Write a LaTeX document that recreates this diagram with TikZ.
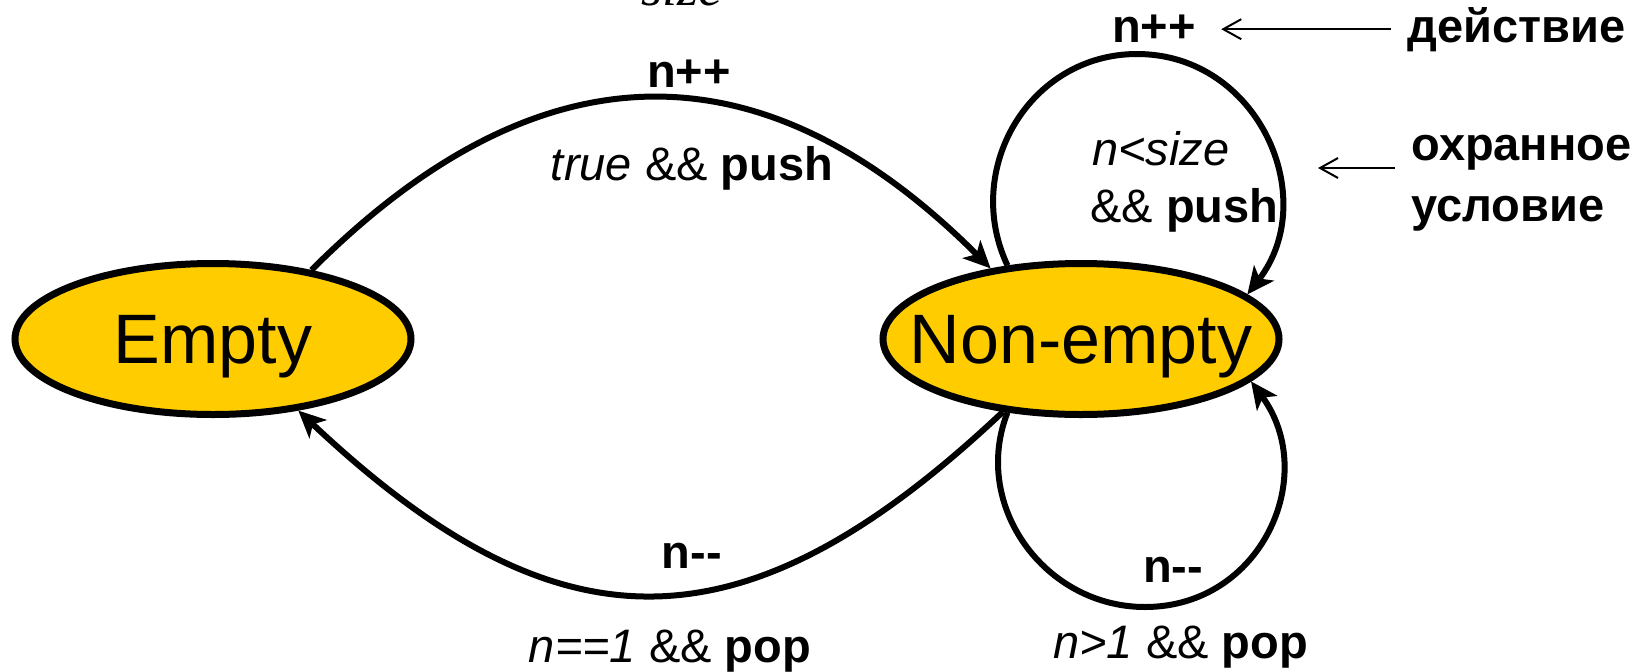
\documentclass[tikz,border=0pt]{standalone}
\usepackage{fontspec}
\setmainfont{Liberation Sans}
\newfontfamily\serifface{Liberation Serif}
\usetikzlibrary{shapes.geometric,arrows.meta}
\definecolor{stategold}{RGB}{255,204,0}
% decrement label: keep the two hyphens apart (no en-dash ligature)
\newcommand\decr{n-\kern0pt-}

\begin{document}
\begin{tikzpicture}[x=0.5pt,y=0.5pt,
  state/.style={ellipse, draw=black, line width=3.5pt, fill=stategold,
    minimum width=198pt, minimum height=75.5pt, inner sep=0pt},
  statename/.style={font=\fontsize{35}{42}\selectfont, text depth=0pt, inner sep=0pt},
  edge/.style={line width=3pt, -{Stealth[length=13.5pt,width=12.5pt,inset=3.5pt]}},
  lbl/.style={font=\fontsize{23.5}{28}\selectfont, inner sep=0pt},
  note/.style={line width=1pt, -{Straight Barb[length=9pt,width=10pt]}}]

\useasboundingbox (0,0) rectangle (1651,-671);
\clip (0,0) rectangle (1651,-671);

% states
\node[state, label={[statename, name=Etext]center:Empty}] (E) at (213,-339) {};
\node[state, label={[statename, name=NEtext]center:Non-empty}] (NE) at (1081,-339) {};

% push: Empty -> Non-empty
\draw[edge] (E.35.6) .. controls +(228,228) and +(-228,228) .. (NE.142.2);
% pop: Non-empty -> Empty
\draw[edge] (NE.223.1) .. controls +(-260,-245) and +(260,-245) .. (E.320.3);

% push self-loop
\coordinate (topLoop) at (1137,-54);
\draw[edge] (NE.135.7) .. controls +(-45.6,96.8) and +(-107,0) .. (topLoop)
  .. controls +(121.3,0) and +(74.4,95.9) .. (NE.15.9);
% pop self-loop
\coordinate (botLoop) at (1145,-607);
\draw[edge] (NE.225.8) .. controls +(-36.5,-93.1) and +(-100,0) .. (botLoop)
  .. controls +(116.5,0) and +(69,-93.9) .. (NE.346.3);

% transition labels
\node[lbl, anchor=base] (pushAct) at (689,-87) {\bfseries n++};
\node[lbl, anchor=base] (pushGrd) at (692,-180) {{\itshape true} \&\& {\bfseries push}};
\node[lbl, anchor=base] (popAct) at (692,-568) {\bfseries\decr};
\node[lbl, anchor=base] (popGrd) at (670,-662) {{\itshape n==1} \&\& {\bfseries pop}};
\node[lbl, anchor=base] (loopPushAct) at (1154,-42) {\bfseries n++};
\node[lbl, anchor=base west] (loopPushGrd) at (1092,-165) {\itshape n<size};
\node[lbl, anchor=base west] (loopPushGrdB) at (1090,-222) {\&\& {\bfseries push}};
\node[lbl, anchor=base] (loopPopAct) at (1173,-582) {\bfseries\decr};
\node[lbl, anchor=base west] (loopPopGrd) at (1053,-658) {{\itshape n>1} \&\& {\bfseries pop}};

% legend notes
\node[lbl, anchor=base west] (actNote) at (1407,-42) {\bfseries действие};
\node[lbl, anchor=base west] (grdNote) at (1411,-160) {\bfseries охранное};
\node[lbl, anchor=base west] (grdNoteB) at (1411,-221) {\bfseries условие};
\draw[note, shorten <=8pt, shorten >=12.5pt] (actNote.west) -- (actNote.west -| loopPushAct.east);
\coordinate (grdTip) at (1318,-168);
\draw[note, shorten <=8pt] (grdTip -| grdNote.west) -- (grdTip);

% heading fragment running off the top edge
\node[font=\serifface\itshape\fontsize{27}{32}\selectfont, anchor=base west, inner sep=0pt]
  (sizeTop) at (641,-5) {size};
\end{tikzpicture}
\end{document}
